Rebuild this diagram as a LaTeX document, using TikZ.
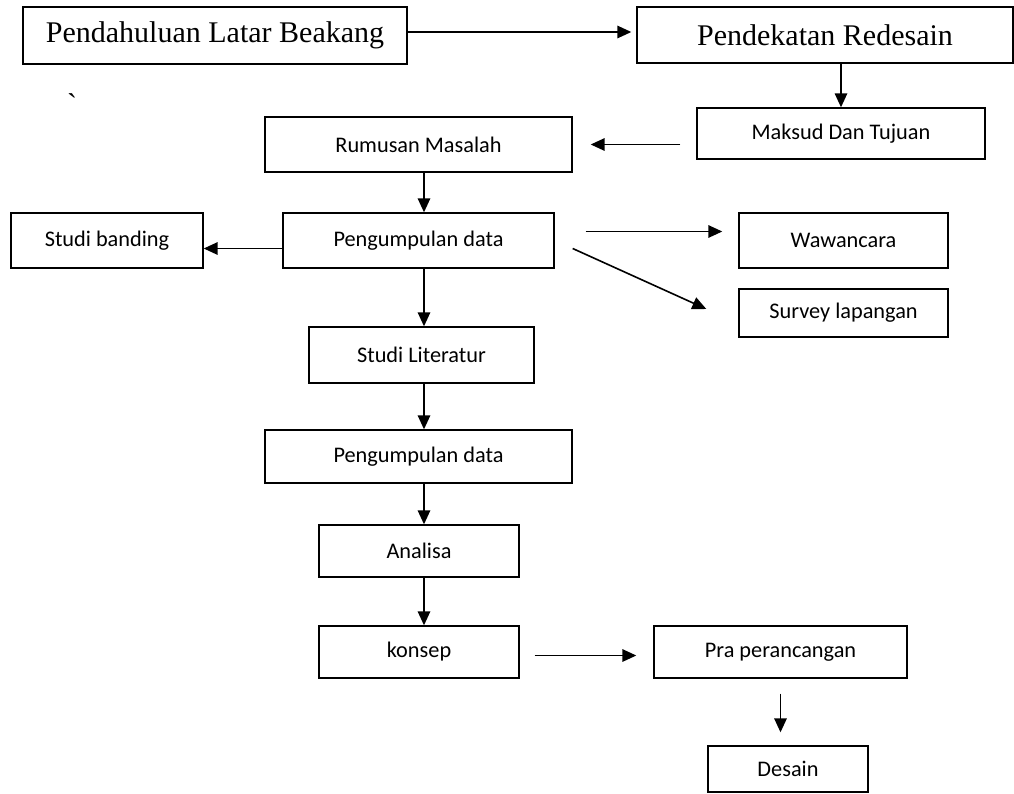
\documentclass[tikz,border=0pt]{standalone}
\usepackage{fontspec}
\setmainfont{Liberation Serif}
\newfontfamily\calibri{Carlito}
\usetikzlibrary{arrows.meta}
\tikzset{
  box/.style={draw,line width=1.4pt,inner sep=0pt,font=\calibri\fontsize{22.3}{26}\selectfont},
  bigbox/.style={box,font=\fontsize{30}{36}\selectfont},
  arr/.style={-{Triangle[length=14pt,width=12.5pt]},line width=1.6pt},
}
\begin{document}
\begin{tikzpicture}[x=1pt,y=-1pt]
  \useasboundingbox (0,0) rectangle (1014,793);
  \node[bigbox,minimum width=384pt,minimum height=57pt] (latar) at (215,35.5) {Pendahuluan Latar Beakang};
  \node[bigbox,minimum width=376pt,minimum height=56pt] (redesain) at (825,35) {Pendekatan Redesain};
  \node[font=\fontsize{30}{36}\selectfont] (grave) at (72,104) {\textasciigrave};
  \node[box,minimum width=288pt,minimum height=51pt] (maksud) at (841,133.5) {Maksud Dan Tujuan};
  \node[box,minimum width=307pt,minimum height=55pt] (rumusan) at (418.5,144.5) {Rumusan Masalah};
  \node[box,minimum width=271pt,minimum height=55pt] (kumpul) at (418.5,240.5) {Pengumpulan data};
  \node[box,minimum width=192pt,minimum height=55pt] (banding) at (107,240.5) {Studi banding};
  \node[box,minimum width=209pt,minimum height=55pt] (wawancara) at (843.5,240.5) {Wawancara};
  \node[box,minimum width=209pt,minimum height=48pt] (survey) at (843.5,313) {Survey lapangan};
  \node[box,minimum width=225pt,minimum height=56pt] (literatur) at (421.5,355) {Studi Literatur};
  \node[box,minimum width=307pt,minimum height=53pt] (kumpuldua) at (418.5,456.5) {Pengumpulan data};
  \node[box,minimum width=200pt,minimum height=52pt] (analisa) at (419,551) {Analisa};
  \node[box,minimum width=200pt,minimum height=52pt] (konsep) at (419,652) {konsep};
  \node[box,minimum width=253pt,minimum height=52pt] (pra) at (780.5,652) {Pra perancangan};
  \node[box,minimum width=160pt,minimum height=46pt] (desain) at (788,769) {Desain};
  \coordinate (spine) at (424,0);
  % top row
  \draw[arr,shorten >=5pt] ([yshift=3.5pt]latar.east) -- ([yshift=3.5pt]latar.east -| redesain.west);
  \draw[arr] (maksud.north |- redesain.south) -- (maksud.north);
  \draw[arr,shorten <=16pt,shorten >=18pt] (maksud.west |- rumusan.east) -- (rumusan.east);
  % main column
  \draw[arr] (rumusan.south -| spine) -- (kumpul.north -| spine);
  \draw[arr] (kumpul.south -| spine) -- (literatur.north -| spine);
  \draw[arr] (literatur.south -| spine) -- (kumpuldua.north -| spine);
  \draw[arr] (kumpuldua.south -| spine) -- (analisa.north -| spine);
  \draw[arr] (analisa.south -| spine) -- (konsep.north -| spine);
  % side branches
  \draw[arr] ([yshift=-8pt]kumpul.west) -- ([yshift=-8pt]banding.east);
  \draw[arr,shorten <=31pt,shorten >=16pt] ([yshift=9pt]kumpul.east) -- ([yshift=9pt]wawancara.west);
  \draw[arr] ([shift={(18pt,-8pt)}]kumpul.east) -- ([shift={(-32pt,4pt)}]survey.west);
  \draw[arr,shorten <=15pt,shorten >=17pt] ([yshift=-3.5pt]konsep.east) -- ([yshift=-3.5pt]pra.west);
  \draw[arr,shorten <=15pt,shorten >=13pt] (pra.south) -- (pra.south |- desain.north);
\end{tikzpicture}
\end{document}
